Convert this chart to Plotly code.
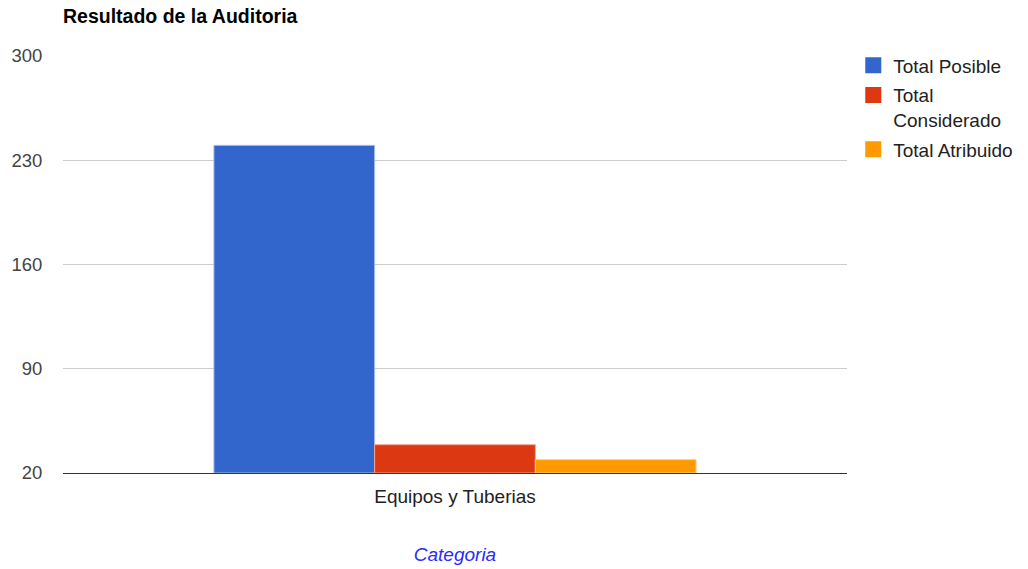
import plotly.graph_objects as go

# Audit results for the single category
categories = ["Equipos y Tuberias"]
total_posible = [240]
total_considerado = [39]
total_atribuido = [29]

series_names = ["Total Posible", "Total<br>Considerado", "Total Atribuido"]
series_values = [total_posible, total_considerado, total_atribuido]
series_colors = ["#3366cc", "#dc3912", "#ff9900"]
border_colors = ["#a9bde6", "#f0a48f", "#ffd08a"]

y_ticks = [20, 90, 160, 230, 300]

FONT = "Liberation Sans, Arial, sans-serif"

fig = go.Figure()
for i, (name, vals, col, bcol) in enumerate(zip(series_names, series_values, series_colors, border_colors)):
    fig.add_trace(go.Bar(
        x=categories,
        y=[v - 20 for v in vals],
        base=20,
        name=name,
        marker=dict(color=col, line=dict(color=bcol, width=1)),
        hoverinfo="skip",
        showlegend=False,
    ))
    # square legend swatch for the series
    fig.add_trace(go.Scatter(
        x=[None], y=[None],
        mode="markers",
        name=name,
        legendgroup=f"g{i}",
        marker=dict(symbol="square", size=16, color=col, line=dict(width=0)),
        hoverinfo="skip",
    ))

fig.update_layout(
    width=1028,
    height=569,
    margin=dict(l=63, r=181, t=56, b=96, autoexpand=False),
    paper_bgcolor="white",
    plot_bgcolor="white",
    barmode="group",
    bargap=0.385,
    bargroupgap=0.0,
    font=dict(family=FONT, size=19, color="#222222"),
    title=dict(
        text="<b>Resultado de la Auditoria</b>",
        x=63 / 1028, xanchor="left",
        y=1 - 16 / 569, yanchor="middle",
        font=dict(family=FONT, size=19.5, color="#000000"),
    ),
    legend=dict(
        x=1.008, xanchor="left",
        y=1.023, yanchor="top",
        valign="top",
        itemsizing="trace",
        font=dict(family=FONT, size=19, color="#222222"),
        tracegroupgap=2,
        bgcolor="rgba(0,0,0,0)",
    ),
    showlegend=True,
)

fig.update_xaxes(
    showline=True, linecolor="#333333", linewidth=1,
    showgrid=False, ticks="outside", ticklen=6, tickcolor="rgba(0,0,0,0)",
    tickfont=dict(family=FONT, size=19, color="#222222"),
    title=dict(text="<i>Categoria</i>", font=dict(family=FONT, size=19, color="#2a2aff"), standoff=41),
)

fig.update_yaxes(
    range=[20, 300],
    tickvals=y_ticks,
    ticktext=[str(t) for t in y_ticks],
    showgrid=True, gridcolor="#cccccc", gridwidth=1,
    zeroline=False, showline=False, ticks="outside", ticklen=16, tickcolor="rgba(0,0,0,0)",
    tickfont=dict(family=FONT, size=18.5, color="#444444"),
)

fig.write_html("out.html")
